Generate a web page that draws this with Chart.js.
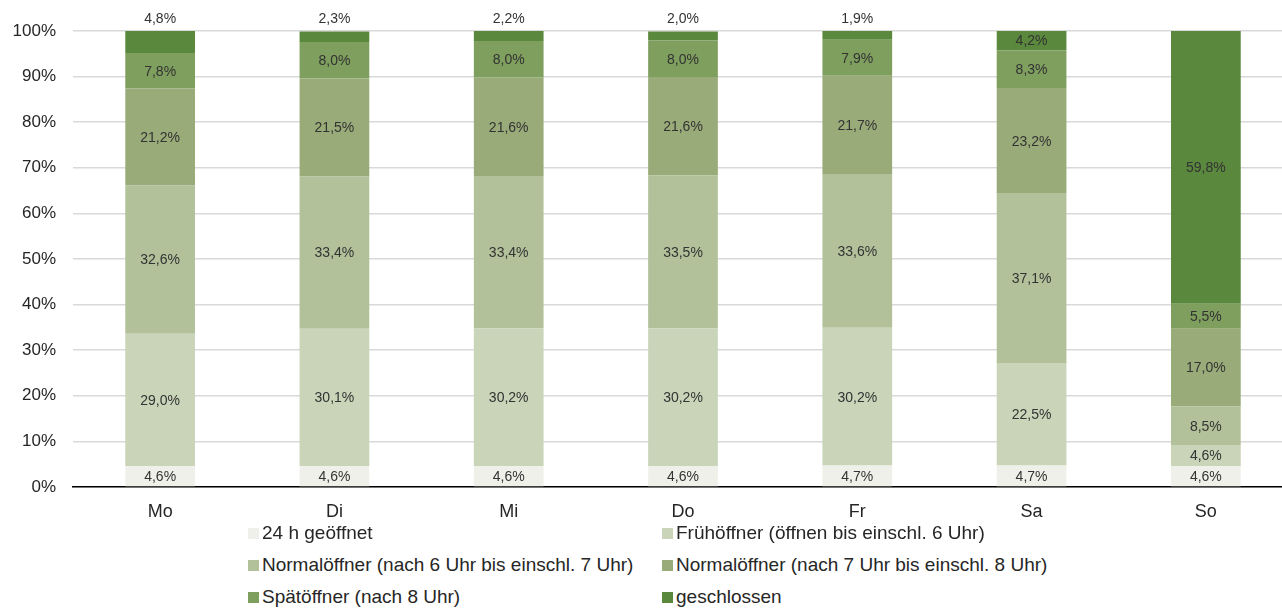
<!DOCTYPE html>
<html>
<head>
<meta charset="utf-8">
<script src="https://cdn.jsdelivr.net/npm/chart.js@4"></script>
<style>
  html, body { margin: 0; padding: 0; background: #fff; overflow: hidden; }
  #wrap { position: relative; width: 1300px; height: 608px; }
  #chart-box { position: absolute; left: 0; top: 0; width: 1300px; height: 522px; }
  #legend { position: absolute; left: 248px; top: 518px; width: 900px;
            font-family: "Liberation Sans", Arial, sans-serif; font-size: 19px; color: #262626; }
  .item { position: absolute; white-space: nowrap; line-height: 30px; }
  .item span.box { display: inline-block; width: 11px; height: 11px; margin-right: 3px; vertical-align: 0px; }
</style>
</head>
<body>
<div id="wrap">
  <div id="chart-box"><canvas id="oeffnung-chart"></canvas></div>
  <div id="legend"></div>
</div>
<script>
// Tage und Anteile (in %)
const tage = ['Mo', 'Di', 'Mi', 'Do', 'Fr', 'Sa', 'So'];
const serien = ['24 h geöffnet', 'Frühöffner (öffnen bis einschl. 6 Uhr)',
    'Normalöffner (nach 6 Uhr bis einschl. 7 Uhr)', 'Normalöffner (nach 7 Uhr bis einschl. 8 Uhr)',
    'Spätöffner (nach 8 Uhr)', 'geschlossen'];
const offen24h = [4.6, 4.6, 4.6, 4.6, 4.7, 4.7, 4.6];
const frueh = [29.0, 30.1, 30.2, 30.2, 30.2, 22.5, 4.6];
const normal67 = [32.6, 33.4, 33.4, 33.5, 33.6, 37.1, 8.5];
const normal78 = [21.2, 21.5, 21.6, 21.6, 21.7, 23.2, 17.0];
const spaet = [7.8, 8.0, 8.0, 8.0, 7.9, 8.3, 5.5];
const geschlossen = [4.8, 2.3, 2.2, 2.0, 1.9, 4.2, 59.8];
const yTicks = [0, 10, 20, 30, 40, 50, 60, 70, 80, 90, 100];

const farben = ['#f0f0ea', '#c9d4b8', '#b2c19a', '#99ab78', '#7f9f5e', '#5a883c'];
const werte = [offen24h, frueh, normal67, normal78, spaet, geschlossen];

// Beschriftung der Segmente (Mo-Fr "geschlossen" oberhalb des Balkens)
const labelPlugin = {
    id: 'segmentLabels',
    afterDatasetsDraw(chart) {
        const ctx = chart.ctx;
        ctx.save();
        ctx.font = '14px "Liberation Sans", Arial, sans-serif';
        ctx.fillStyle = '#333333';
        ctx.textAlign = 'center';
        ctx.textBaseline = 'middle';
        chart.data.datasets.forEach((ds, di) => {
            chart.getDatasetMeta(di).data.forEach((bar, i) => {
                const txt = ds.data[i].toFixed(1).replace('.', ',') + '%';
                let y = (bar.y + bar.base) / 2;
                if (di === 5 && i < 5) y = bar.y - 13;
                ctx.fillText(txt, bar.x, y + 1);
            });
        });
        ctx.restore();
    }
};

const ctx = document.getElementById('oeffnung-chart').getContext('2d');
new Chart(ctx, {
    type: 'bar',
    data: {
        labels: tage,
        datasets: werte.map((w, k) => ({
            label: serien[k],
            data: w,
            backgroundColor: farben[k],
            borderWidth: 0,
            barPercentage: 0.4,
            categoryPercentage: 1.0
        }))
    },
    options: {
        responsive: true,
        maintainAspectRatio: false,
        animation: false,
        layout: { padding: { top: 31, right: 7, left: 0, bottom: 0 } },
        plugins: { legend: { display: false }, tooltip: { enabled: false } },
        scales: {
            x: {
                stacked: true,
                grid: { display: false, drawTicks: false },
                border: { color: '#000000', width: 1.5 },
                ticks: { color: '#262626', padding: 14,
                         font: { family: '"Liberation Sans", Arial, sans-serif', size: 18 } },
                afterFit(s) { s.height = 35; }
            },
            y: {
                stacked: true,
                min: 0,
                max: 100,
                afterBuildTicks(s) { s.ticks = yTicks.map(v => ({ value: v })); },
                grid: { color: '#d9d9d9', lineWidth: 1.5, drawTicks: false },
                border: { display: false },
                ticks: { color: '#262626', padding: 17,
                         font: { family: '"Liberation Sans", Arial, sans-serif', size: 17 },
                         callback: v => v + '%' },
                afterFit(s) { s.width = 73; }
            }
        }
    },
    plugins: [labelPlugin]
});

// Legende in zwei Spalten
const legend = document.getElementById('legend');
serien.forEach((name, k) => {
    const el = document.createElement('div');
    el.className = 'item';
    el.style.left = (k % 2 === 0 ? 0 : 414) + 'px';
    el.style.top = (Math.floor(k / 2) * 32) + 'px';
    el.innerHTML = '<span class="box" style="background:' + farben[k] + '"></span>' + name;
    legend.appendChild(el);
});
</script>
</body>
</html>
